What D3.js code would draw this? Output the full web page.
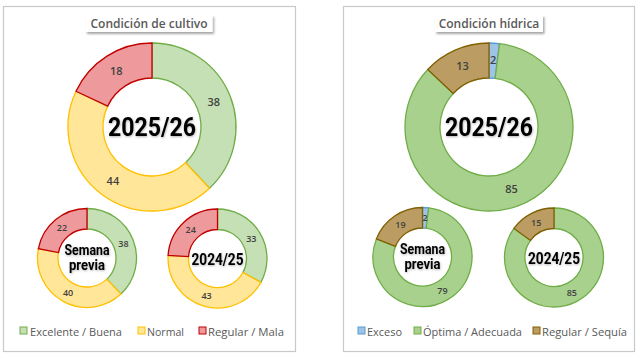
<!DOCTYPE html>
<html><head><meta charset="utf-8">
<script src="https://cdn.jsdelivr.net/npm/d3@7"></script>
<style>
body{margin:0;background:#fff;}
svg{display:block;}
</style></head>
<body><svg id="c" width="640" height="359"></svg>
<script>
// Data
const cultivoCategories = ["Excelente / Buena", "Normal", "Regular / Mala"];
const cultivo2025 = [38, 44, 18];
const cultivoPrev = [38, 40, 22];
const cultivo2024 = [33, 43, 24];
const hidricaCategories = ["Exceso", "Óptima / Adecuada", "Regular / Sequía"];
const hidrica2025 = [2, 85, 13];
const hidricaPrev = [2, 79, 19];
const hidrica2024 = [0, 85, 15];
const panelTitles = ["Condición de cultivo", "Condición hídrica"];
const centerLabels = ["2025/26", "Semana previa", "2024/25"];

const cultivoFill = ["#c5e0b4", "#ffe699", "#ee9a9c"];
const cultivoStroke = ["#70ad47", "#ffc000", "#c00000"];
const hidricaFill = ["#9dc3e6", "#a9d18e", "#bb9d63"];
const hidricaStroke = ["#5b9bd5", "#70ad47", "#7f6000"];

const svg = d3.select("#c");
const defs = svg.append("defs");
const f = defs.append("filter").attr("id","sh").attr("x","-10%").attr("y","-30%").attr("width","130%").attr("height","180%");
f.append("feDropShadow").attr("dx",1.5).attr("dy",2).attr("stdDeviation",1.2).attr("flood-color","#000").attr("flood-opacity",0.35);
const g2 = defs.append("filter").attr("id","glow").attr("x","-10%").attr("y","-20%").attr("width","120%").attr("height","140%");
g2.append("feDropShadow").attr("dx",0.5).attr("dy",1).attr("stdDeviation",0.8).attr("flood-color","#000").attr("flood-opacity",0.3);

const panels = [
  {x:3, y:6, w:292, h:345, title:panelTitles[0], titleCx:149, titleW:127,
   cats:cultivoCategories, fill:cultivoFill, stroke:cultivoStroke,
   donuts:[{cx:152, cy:127, ro:84, ri:49, vals:cultivo2025, label:centerLabels[0], big:true},
           {cx:87, cy:258, ro:49.5, ri:29, vals:cultivoPrev, label:centerLabels[1]},
           {cx:217.5, cy:258.5, ro:49.5, ri:29, vals:cultivo2024, label:centerLabels[2]}],
   legend:[{sq:20, tx:30, w:92},{sq:138, tx:147, w:37},{sq:199, tx:208, w:76}]},
  {x:343, y:6, w:291, h:345, title:panelTitles[1], titleCx:489, titleW:108,
   cats:hidricaCategories, fill:hidricaFill, stroke:hidricaStroke,
   donuts:[{cx:489, cy:127, ro:84, ri:49, vals:hidrica2025, label:centerLabels[0], big:true},
           {cx:422.5, cy:257, ro:49.5, ri:29, vals:hidricaPrev, label:centerLabels[1]},
           {cx:554, cy:257.5, ro:49.5, ri:29, vals:hidrica2024, label:centerLabels[2]}],
   legend:[{sq:358, tx:367, w:35},{sq:414, tx:423, w:99},{sq:533, tx:542, w:85}]}
];

const pie = d3.pie().sort(null).value(d=>d);

panels.forEach(p=>{
  svg.append("rect").attr("x",p.x+0.5).attr("y",p.y+0.5).attr("width",p.w).attr("height",p.h)
    .attr("fill","#fff").attr("stroke","#c9c9c9").attr("stroke-width",1.2);
  // title box
  svg.append("rect").attr("x",p.titleCx-p.titleW/2).attr("y",15).attr("width",p.titleW).attr("height",17)
    .attr("fill","#fff").attr("filter","url(#sh)");
  svg.append("text").attr("x",p.titleCx).attr("y",28).attr("text-anchor","middle")
    .attr("font-family","Open Sans, sans-serif").attr("font-weight",600).attr("font-size",12)
    .attr("fill","#595959").text(p.title);

  p.donuts.forEach(d=>{
    const g = svg.append("g").attr("transform",`translate(${d.cx},${d.cy})`);
    const arc = d3.arc().innerRadius(d.ri).outerRadius(d.ro);
    const arcs = pie(d.vals).map((a,i)=>Object.assign(a,{idx:i}));
    g.selectAll("path").data(arcs.filter(a=>a.value>0)).join("path")
      .attr("d",arc).attr("fill",a=>p.fill[a.idx]).attr("stroke",a=>p.stroke[a.idx]).attr("stroke-width",1.3);
    const lr = (d.ri+d.ro)/2;
    const lab = d3.arc().innerRadius(lr).outerRadius(lr);
    g.selectAll("text.v").data(arcs.filter(a=>a.value>0)).join("text").attr("class","v")
      .attr("transform",a=>{const c=lab.centroid(a);return `translate(${c[0]},${c[1]})`;})
      .attr("text-anchor","middle").attr("dy","0.35em")
      .attr("font-family","Open Sans, sans-serif").attr("font-weight",600)
      .attr("font-size",d.big?11:9).attr("fill","#404040").text(a=>a.value);
    // center label
    const t = g.append("text").attr("text-anchor","middle").attr("font-family","Roboto, sans-serif")
      .attr("font-weight",700).attr("fill","#000").attr("filter","url(#glow)");
    if(d.big){
      t.attr("y",9).attr("font-size",25).attr("textLength",88).attr("lengthAdjust","spacingAndGlyphs").text(d.label);
    } else if(d.label.includes(" ")){
      const parts = d.label.split(" ");
      t.attr("font-size",14);
      t.append("tspan").attr("x",0).attr("y",-3).attr("textLength",45).attr("lengthAdjust","spacingAndGlyphs").text(parts[0]);
      t.append("tspan").attr("x",0).attr("y",12).attr("textLength",36).attr("lengthAdjust","spacingAndGlyphs").text(parts[1]);
    } else {
      t.attr("y",6).attr("font-size",16).attr("textLength",52).attr("lengthAdjust","spacingAndGlyphs").text(d.label);
    }
  });

  // legend
  p.cats.forEach((c,i)=>{
    const L = p.legend[i];
    svg.append("rect").attr("x",L.sq).attr("y",327).attr("width",7).attr("height",7)
      .attr("fill",p.fill[i]).attr("stroke",p.stroke[i]).attr("stroke-width",1);
    svg.append("text").attr("x",L.tx).attr("y",335.5).attr("font-family","Open Sans, sans-serif")
      .attr("font-size",11.5).attr("fill","#595959")
      .attr("textLength",L.w).attr("lengthAdjust","spacingAndGlyphs").text(c);
  });
});
</script></body></html>
